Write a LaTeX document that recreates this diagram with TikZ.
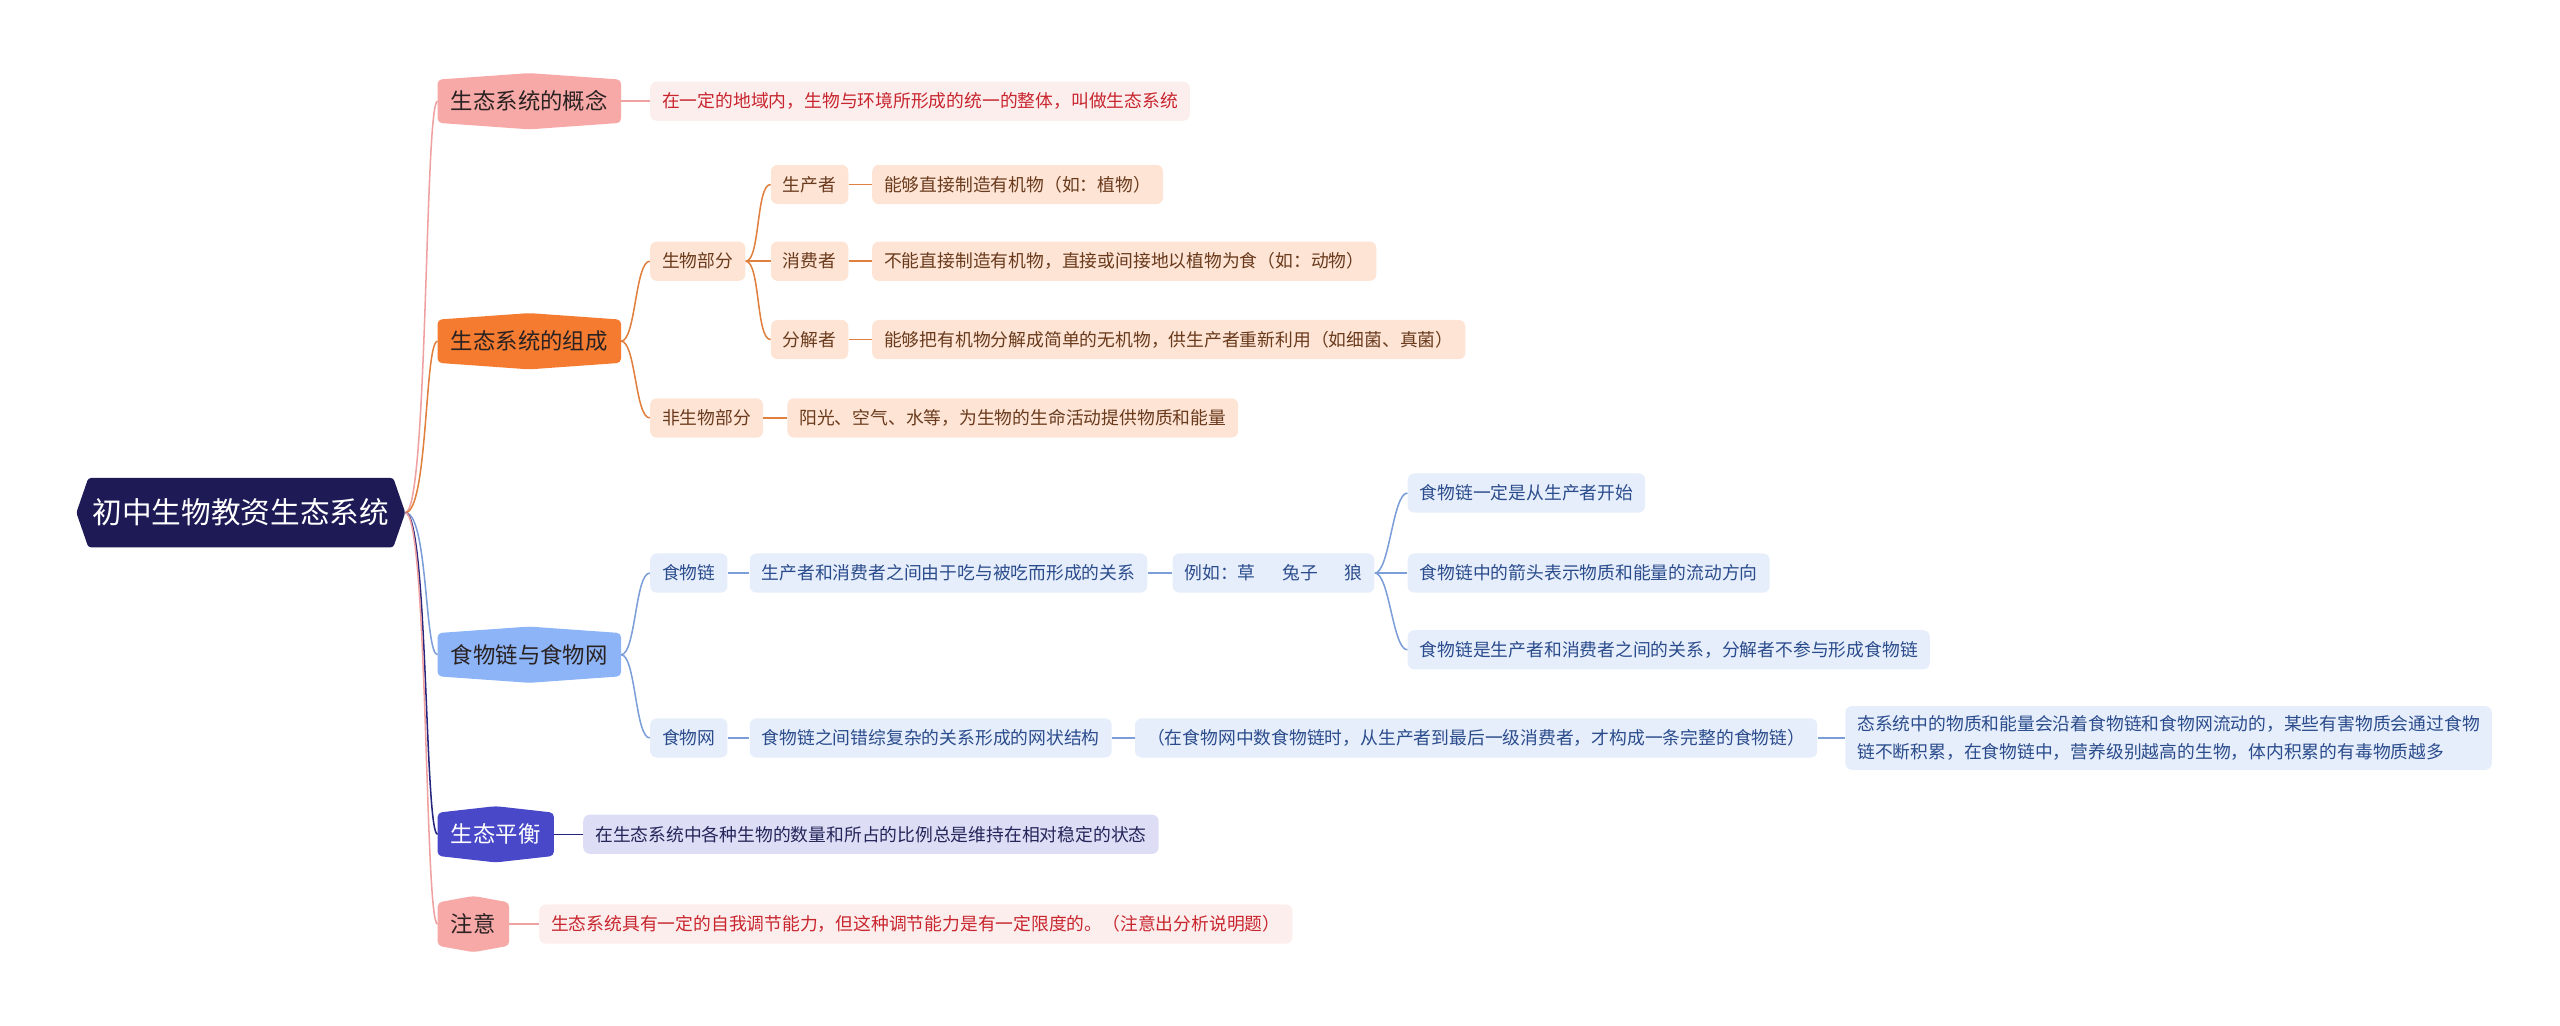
\documentclass[tikz,border=0pt]{standalone}
\usepackage{fontspec}
\setmainfont{Noto Sans CJK SC}
\usepackage{tikz}
\usetikzlibrary{calc,backgrounds}

\definecolor{rootc}{HTML}{1D1A56}
\definecolor{topictxt}{HTML}{2A2222}
\definecolor{pinkc}{HTML}{F7A9A7}
\definecolor{pinkbg}{HTML}{FDEEEE}
\definecolor{pinkln}{HTML}{EFA0A0}
\definecolor{redtxt}{HTML}{C8262E}
\definecolor{orgc}{HTML}{F47B2F}
\definecolor{orgbg}{HTML}{FDE4D5}
\definecolor{orgtxt}{HTML}{6A3A1C}
\definecolor{orgln}{HTML}{E0803E}
\definecolor{bluec}{HTML}{8CB4F6}
\definecolor{bluebg}{HTML}{E6EEFB}
\definecolor{bluetxt}{HTML}{2B4C8C}
\definecolor{blueln}{HTML}{7C9ED8}
\definecolor{indc}{HTML}{4848C9}
\definecolor{indbg}{HTML}{DDDEF6}
\definecolor{indtxt}{HTML}{25255A}
\definecolor{indln}{HTML}{25257E}

% shape behind a topic node: peaks on top and bottom
\newcommand\topicbg[2]{%
  \fill[#2,rounded corners=0.8mm] (#1.north west) -- ($(#1.north)+(0,1.2mm)$) -- (#1.north east)
    -- (#1.south east) -- ($(#1.south)+(0,-1.2mm)$) -- (#1.south west) -- cycle;}

\begin{document}
\begin{tikzpicture}[x=0.3mm,y=-0.3mm,
  leaf/.style={anchor=west,rounded corners=1.2mm,inner xsep=2.2mm,inner ysep=0pt,minimum height=7.2mm,font=\fontsize{9.3}{11}\selectfont},
  orgbox/.style={leaf,fill=orgbg,text=orgtxt},
  bluebox/.style={leaf,fill=bluebg,text=bluetxt},
  topic/.style={anchor=west,inner xsep=2.4mm,inner ysep=0pt,minimum height=7.8mm,font=\fontsize{11.7}{13}\selectfont,text=topictxt},
  link/.style={line width=0.8pt}]
\useasboundingbox (0,0) rectangle (1568,628);

\node[minimum width=55.9mm,minimum height=12.6mm,inner sep=0pt,text=white,font=\fontsize{15.5}{17}\selectfont] (root) at (147.5,314) {初中生物教资生态系统};
\coordinate (rootR) at ($(root.east)+(2.2mm,0)$);

\node[topic] (c1) at (268,62) {生态系统的概念};
\node[topic] (c2) at (268,209) {生态系统的组成};
\node[topic] (c3) at (268,401) {食物链与食物网};
\node[topic,text=white] (c4) at (268,511) {生态平衡};
\node[topic] (c5) at (268,566) {注意};

\begin{scope}[on background layer]
\fill[rootc,rounded corners=0.5mm] (root.north west) -- (root.north east) -- (rootR) -- (root.south east)
  -- (root.south west) -- ($(root.west)+(-2.2mm,0)$) -- cycle;
\topicbg{c1}{pinkc}
\topicbg{c2}{orgc}
\topicbg{c3}{bluec}
\topicbg{c4}{indc}
\topicbg{c5}{pinkc}
\end{scope}

% 概念
\node[leaf,fill=pinkbg,text=redtxt] (d1) at (398,62) {在一定的地域内，生物与环境所形成的统一的整体，叫做生态系统};

% 组成
\node[orgbox] (b1) at (398,160) {生物部分};
\node[orgbox] (b2) at (398,256) {非生物部分};
\node[orgbox] (p1) at (472,113) {生产者};
\node[orgbox] (p2) at (472,160) {消费者};
\node[orgbox] (p3) at (472,208) {分解者};
\node[orgbox] (t1) at (534,113) {能够直接制造有机物（如：植物）};
\node[orgbox] (t2) at (534,160) {不能直接制造有机物，直接或间接地以植物为食（如：动物）};
\node[orgbox] (t3) at (534,208) {能够把有机物分解成简单的无机物，供生产者重新利用（如细菌、真菌）};
\node[orgbox] (t4) at (482,256) {阳光、空气、水等，为生物的生命活动提供物质和能量};

% 食物链与食物网
\node[bluebox] (f1) at (398,351) {食物链};
\node[bluebox] (g1) at (459,351) {生产者和消费者之间由于吃与被吃而形成的关系};
\node[bluebox] (g2) at (718,351) {例如：草\hspace{1.5em}兔子\hspace{1.5em}狼};
\node[bluebox] (h1) at (862,302) {食物链一定是从生产者开始};
\node[bluebox] (h2) at (862,351) {食物链中的箭头表示物质和能量的流动方向};
\node[bluebox] (h3) at (862,398) {食物链是生产者和消费者之间的关系，分解者不参与形成食物链};
\node[bluebox] (f2) at (398,452) {食物网};
\node[bluebox] (k1) at (459,452) {食物链之间错综复杂的关系形成的网状结构};
\node[bluebox] (k2) at (695,452) {（在食物网中数食物链时，从生产者到最后一级消费者，才构成一条完整的食物链）};
\node[bluebox,minimum height=11.7mm,align=left,font=\fontsize{9.3}{14.5}\selectfont] (k3) at (1130,452)
  {态系统中的物质和能量会沿着食物链和食物网流动的，某些有害物质会通过食物\\链不断积累，在食物链中，营养级别越高的生物，体内积累的有毒物质越多};

% 生态平衡, 注意
\node[leaf,fill=indbg,text=indtxt] (e1) at (357,511) {在生态系统中各种生物的数量和所占的比例总是维持在相对稳定的状态};
\node[leaf,fill=pinkbg,text=redtxt] (n1) at (330,566) {生态系统具有一定的自我调节能力，但这种调节能力是有一定限度的。（注意出分析说明题）};

\foreach \n/\c in {c1/pinkln,c2/orgln,c3/blueln,c4/indln,c5/pinkln}
  \draw[link,\c] (rootR) .. controls +(14,0) and +(-8,0) .. (\n.west);

\draw[link,pinkln] (c1.east) -- (d1.west);
\foreach \a/\b in {c2/b1,c2/b2,b1/p1,b1/p2,b1/p3}
  \draw[link,orgln] (\a.east) .. controls +(9,0) and +(-9,0) .. (\b.west);
\foreach \a/\b in {p1/t1,p2/t2,p3/t3,b2/t4}
  \draw[link,orgln] (\a.east) -- (\b.west);
\foreach \a/\b in {c3/f1,c3/f2,g2/h1,g2/h2,g2/h3}
  \draw[link,blueln] (\a.east) .. controls +(9,0) and +(-9,0) .. (\b.west);
\foreach \a/\b in {f1/g1,g1/g2,f2/k1,k1/k2,k2/k3}
  \draw[link,blueln] (\a.east) -- (\b.west);
\draw[link,indln] (c4.east) -- (e1.west);
\draw[link,pinkln] (c5.east) -- (n1.west);
\end{tikzpicture}
\end{document}
